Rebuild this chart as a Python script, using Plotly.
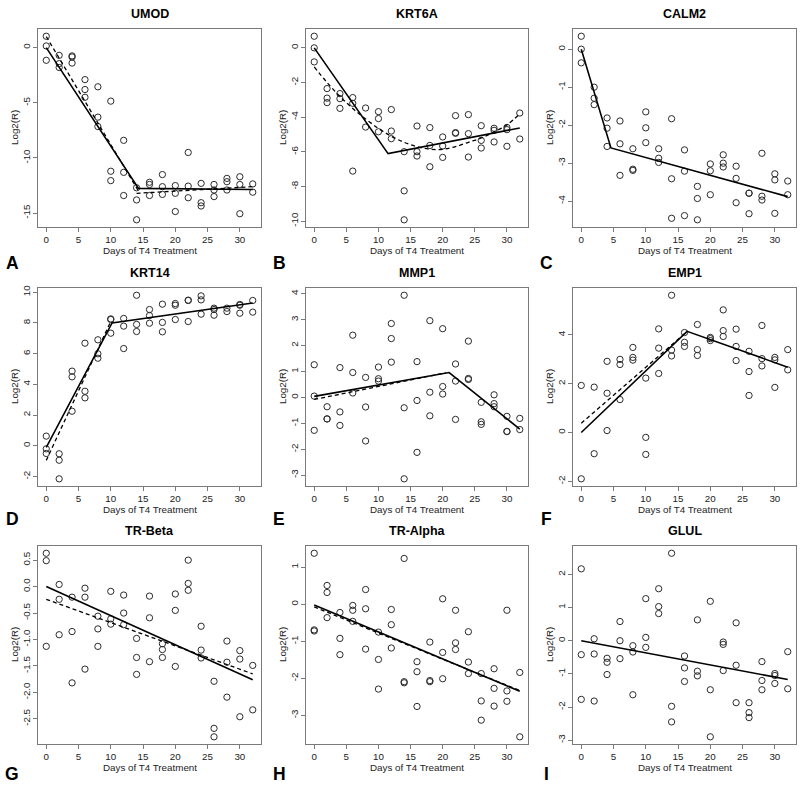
import plotly.graph_objects as go

# ---------------- data ----------------
DAYS = [0, 2, 4, 6, 8, 10, 12, 14, 16, 18, 20, 22, 24, 26, 28, 30, 32]
X_TICKS = [0, 5, 10, 15, 20, 25, 30]

umod_vals = [[1.03, 0.15, -1.15], [-0.7, -1.45, -1.8], [-0.75, -0.85, -1.4], [-2.9, -3.8, -4.5],
             [-3.55, -6.3, -7.15], [-4.85, -11.2, -12.05], [-8.4, -11.3, -13.4], [-12.7, -13.8, -15.6],
             [-12.2, -12.4, -13.4], [-11.5, -12.6, -13.3], [-12.5, -13.2, -14.85], [-9.5, -12.55, -13.6],
             [-12.3, -14.05, -14.35], [-12.4, -12.9, -13.5], [-11.85, -12.15, -12.9], [-11.7, -12.4, -15.05],
             [-12.35, -13.1]]
umod_solid_x = [0, 14.3, 32]
umod_solid_y = [0, -12.75, -12.85]
umod_dash_x = [0, 14.2, None, 14, 32]
umod_dash_y = [1.0, -12.9, None, -13.2, -12.6]

krt6a_vals = [[0.67, 0.0, -0.81], [-2.35, -2.9, -3.16], [-2.64, -2.93, -3.49], [-2.87, -3.2, -7.11],
              [-3.47, -4.57], [-3.68, -4.08, -4.84], [-3.56, -4.8, -5.24], [-5.99, -8.25, -9.92],
              [-4.51, -5.99, -6.24], [-4.6, -5.63, -6.86], [-5.14, -5.66, -6.32], [-3.91, -4.89, -4.93],
              [-3.85, -4.95, -6.3], [-4.49, -5.34, -5.78], [-4.64, -4.76, -5.43], [-4.59, -4.72, -5.68],
              [-3.76, -5.26]]
krt6a_solid_x = [0, 11.5, 32]
krt6a_solid_y = [0, -6.1, -4.62]
krt6a_dash_x = [0, 2, 4, 6, 8, 10, 12, 14, 16, 18, 20, 22, 24, 26, 28, 30, 32]
krt6a_dash_y = [-1.1, -2.0, -2.8, -3.5, -4.1, -4.65, -5.1, -5.45, -5.7, -5.85, -5.85, -5.7,
                -5.45, -5.2, -4.85, -4.45, -3.8]

calm2_vals = [[0.34, 0.0, -0.36], [-1.0, -1.29, -1.46], [-1.81, -2.08, -2.56], [-1.89, -2.49, -3.32],
              [-2.62, -3.16, -3.19], [-1.65, -2.07, -2.46], [-2.62, -2.87, -2.98], [-1.83, -3.41, -4.45],
              [-2.65, -3.21, -4.38], [-3.61, -3.93, -4.49], [-3.02, -3.2, -3.83], [-2.78, -3.0, -3.1],
              [-3.08, -3.4, -4.04], [-3.79, -3.79, -4.33], [-2.74, -3.87, -3.97], [-3.28, -3.44, -4.32],
              [-3.47, -3.83]]
calm2_solid_x = [0, 4.6, 32]
calm2_solid_y = [0, -2.6, -3.88]

krt14_vals = [[0.63, -0.2, -0.5], [-0.52, -0.94, -2.15], [4.86, 4.49, 2.25], [6.68, 3.55, 3.12],
              [6.9, 5.99, 5.7], [8.26, 8.22, 7.33], [8.29, 7.79, 6.33], [9.8, 7.9, 7.44],
              [8.87, 8.48, 7.98], [9.22, 8.03, 7.42], [9.26, 9.15, 8.22], [9.48, 9.46, 8.09],
              [9.76, 9.5, 8.57], [8.96, 8.87, 8.5], [8.96, 8.74], [9.2, 9.15, 8.63], [9.46, 8.7]]
krt14_solid_x = [0, 10.2, 32]
krt14_solid_y = [-0.1, 8.0, 9.3]
krt14_dash_x = [0, 10]
krt14_dash_y = [-0.95, 8.1]

mmp1_vals = [[1.26, 0.05, -1.27], [-0.36, -0.83, -0.83], [1.15, -0.56, -1.08], [2.4, 0.96, 0.17],
             [0.77, -0.37, -1.68], [1.17, 0.72, 0.63], [2.85, 2.27, 1.36], [3.94, -0.4, -3.14],
             [1.38, -0.12, -2.12], [2.96, 0.2, -0.71], [2.65, 0.42, 0.13], [1.29, 0.63, -0.85],
             [2.17, 0.73, 0.69], [-0.19, -0.94, -1.04], [0.1, -0.24, -0.36], [-0.73, -1.31, -1.32],
             [-0.81, -1.24]]
mmp1_solid_x = [0, 21, 32]
mmp1_solid_y = [0.04, 0.96, -1.22]
mmp1_dash_x = [0, 20.5]
mmp1_dash_y = [-0.08, 0.95]

emp1_vals = [[1.93, -1.9], [1.86, -0.87], [2.92, 1.61, 0.08], [3.0, 2.79, 1.35],
             [3.49, 3.08, 2.97], [2.23, -0.2, -0.9], [4.25, 3.46, 2.42], [5.63, 3.38, 3.14],
             [4.1, 3.7, 3.53], [4.43, 3.4, 3.16], [3.9, 3.85, 3.77], [5.03, 4.18, 3.94],
             [4.24, 3.53, 2.95], [3.33, 2.5, 1.52], [4.39, 3.03, 2.73], [3.08, 2.98, 1.85],
             [3.4, 2.57]]
emp1_solid_x = [0, 16.4, 32]
emp1_solid_y = [0, 4.15, 2.68]
emp1_dash_x = [0, 16]
emp1_dash_y = [0.38, 4.05]

trb_vals = [[0.63, 0.49, -1.13], [0.04, -0.24, -0.91], [-0.2, -0.85, -1.82], [-0.03, -0.2, -1.56],
            [-0.56, -0.8, -1.13], [-0.09, -0.61, -0.71], [-0.16, -0.5, -0.72], [-0.98, -1.34, -1.66],
            [-0.18, -0.59, -1.42], [-1.08, -1.19, -1.34], [-0.14, -0.45, -1.51], [0.5, 0.06, -0.07],
            [-0.75, -1.2, -1.35], [-1.79, -2.68, -2.84], [-1.03, -1.43, -2.09], [-1.21, -1.37, -2.46],
            [-1.49, -2.33]]
trb_solid_x = [0, 32]
trb_solid_y = [0, -1.76]
trb_dash_x = [0, 32]
trb_dash_y = [-0.24, -1.65]

tra_vals = [[1.38, -0.69, -0.72], [0.51, 0.32, -0.36], [-0.22, -0.92, -1.36], [-0.03, -0.16, -0.46],
            [0.4, -0.12, -1.21], [-0.75, -1.49, -2.29], [-0.14, -0.55, -1.18], [1.24, -2.09, -2.12],
            [-1.55, -1.82, -2.76], [-1.02, -2.06, -2.09], [0.15, -1.3, -2.01], [-0.16, -1.04, -1.22],
            [-0.74, -1.56, -1.87], [-1.87, -2.61, -3.13], [-1.74, -2.27, -2.75], [-0.16, -2.34, -2.62],
            [-1.84, -3.58]]
tra_solid_x = [0, 32]
tra_solid_y = [-0.02, -2.35]
tra_dash_x = [0, 32]
tra_dash_y = [-0.07, -2.33]

glul_vals = [[2.17, -0.42, -1.77], [0.06, -0.4, -1.82], [-0.53, -0.65, -1.02], [0.58, 0.0, -0.54],
             [-0.15, -0.34, -1.63], [1.27, 0.1, -0.2], [1.57, 1.03, 0.82], [2.64, -1.98, -2.45],
             [-0.46, -0.82, -1.23], [0.63, -0.92, -1.06], [1.19, -1.48, -2.9], [-0.04, -0.11, -0.9],
             [0.54, -0.74, -1.87], [-1.87, -2.17, -2.32], [-0.63, -1.2, -1.48], [-0.99, -1.05, -1.29],
             [-0.33, -1.45]]
glul_solid_x = [0, 32]
glul_solid_y = [0, -1.17]

umod_yticks = [-15, -10, -5, 0]
krt6a_yticks = [-10, -8, -6, -4, -2, 0]
calm2_yticks = [-4, -3, -2, -1, 0]
krt14_yticks = [-2, 0, 2, 4, 6, 8, 10]
mmp1_yticks = [-3, -2, -1, 0, 1, 2, 3, 4]
emp1_yticks = [-2, 0, 2, 4]
trb_yticks = [-2.5, -2.0, -1.5, -1.0, -0.5, 0.0, 0.5]
tra_yticks = [-3, -2, -1, 0, 1]
glul_yticks = [-3, -2, -1, 0, 1, 2]

panels = [
    ("UMOD", "A", umod_vals, umod_yticks, "{:g}", umod_solid_x, umod_solid_y, umod_dash_x, umod_dash_y, "linear"),
    ("KRT6A", "B", krt6a_vals, krt6a_yticks, "{:g}", krt6a_solid_x, krt6a_solid_y, krt6a_dash_x, krt6a_dash_y, "spline"),
    ("CALM2", "C", calm2_vals, calm2_yticks, "{:g}", calm2_solid_x, calm2_solid_y, None, None, "linear"),
    ("KRT14", "D", krt14_vals, krt14_yticks, "{:g}", krt14_solid_x, krt14_solid_y, krt14_dash_x, krt14_dash_y, "linear"),
    ("MMP1", "E", mmp1_vals, mmp1_yticks, "{:g}", mmp1_solid_x, mmp1_solid_y, mmp1_dash_x, mmp1_dash_y, "linear"),
    ("EMP1", "F", emp1_vals, emp1_yticks, "{:g}", emp1_solid_x, emp1_solid_y, emp1_dash_x, emp1_dash_y, "linear"),
    ("TR-Beta", "G", trb_vals, trb_yticks, "{:.1f}", trb_solid_x, trb_solid_y, trb_dash_x, trb_dash_y, "linear"),
    ("TR-Alpha", "H", tra_vals, tra_yticks, "{:g}", tra_solid_x, tra_solid_y, tra_dash_x, tra_dash_y, "linear"),
    ("GLUL", "I", glul_vals, glul_yticks, "{:g}", glul_solid_x, glul_solid_y, None, None, "linear"),
]

# ---------------- layout geometry (pixels) ----------------
W, H = 800, 787
COL_L = [38, 306, 573]
COL_R = [261, 528, 796]
ROW_T = [26, 286, 545]
ROW_B = [225, 485, 744]
LETTER_Y = [261, 518, 774]
LETTER_X = [12, 279, 546]
FONT = "Liberation Sans, Arial, Helvetica, sans-serif"
FRAME = "#7a7a7a"
INK = "#2b2b2b"
LAB = 9.8

fig = go.Figure()
layout = dict(width=W, height=H, margin=dict(l=0, r=0, t=0, b=0),
              paper_bgcolor="white", plot_bgcolor="white", showlegend=False,
              font=dict(family=FONT, size=LAB, color="#222"))
annotations = []

for i, (title, letter, vals, yticks, fmt, sx, sy, dx, dy, dshape) in enumerate(panels):
    r, c = divmod(i, 3)
    n = i + 1
    xa = "x" if n == 1 else f"x{n}"
    ya = "y" if n == 1 else f"y{n}"
    xs, ys = [], []
    for d, vlist in zip(DAYS, vals):
        for v in vlist:
            xs.append(d)
            ys.append(v)
    fig.add_trace(go.Scatter(x=xs, y=ys, mode="markers", xaxis=xa, yaxis=ya,
                             marker=dict(symbol="circle-open", size=6.3, color=INK,
                                         line=dict(width=1, color=INK))))
    fig.add_trace(go.Scatter(x=sx, y=sy, mode="lines", xaxis=xa, yaxis=ya,
                             line=dict(color="black", width=1.6)))
    if dx is not None:
        fig.add_trace(go.Scatter(x=dx, y=dy, mode="lines", xaxis=xa, yaxis=ya, connectgaps=False,
                                 line=dict(color="black", width=1.3, dash="4px,3px", shape=dshape)))

    ymin, ymax = min(ys), max(ys)
    span = ymax - ymin
    yr = [ymin - 0.04 * span, ymax + 0.04 * span]
    xr = [0 - 0.04 * 32, 32 + 0.04 * 32]

    axcommon = dict(showgrid=False, zeroline=False, showline=True, linecolor=FRAME, linewidth=1,
                    mirror=True, ticks="outside", ticklen=4, tickcolor=FRAME, tickwidth=1,
                    tickfont=dict(family=FONT, size=LAB, color="#222"), fixedrange=True)
    layout["xaxis" if n == 1 else f"xaxis{n}"] = dict(
        axcommon, domain=[COL_L[c] / W, COL_R[c] / W], range=xr, anchor=ya,
        tickvals=X_TICKS, ticktext=[str(t) for t in X_TICKS], ticklabelstandoff=-1)
    layout["yaxis" if n == 1 else f"yaxis{n}"] = dict(
        axcommon, domain=[1 - ROW_B[r] / H, 1 - ROW_T[r] / H], range=yr, anchor=xa,
        tickvals=yticks, ticktext=[fmt.format(t) for t in yticks], tickangle=-90,
        ticklabelstandoff=-1)

    cx = (COL_L[c] + COL_R[c]) / 2
    cy = (ROW_T[r] + ROW_B[r]) / 2
    annotations.append(dict(text=f"<b>{title}</b>", x=cx / W, y=1 - (ROW_T[r] - 15) / H,
                            xref="paper", yref="paper", showarrow=False, xanchor="center",
                            yanchor="middle", font=dict(family=FONT, size=12.5, color="black")))
    annotations.append(dict(text="Days of T4 Treatment", x=cx / W, y=1 - (ROW_B[r] + 23.5) / H,
                            xref="paper", yref="paper", showarrow=False, xanchor="center",
                            yanchor="middle", font=dict(family=FONT, size=LAB, color="#222")))
    annotations.append(dict(text="Log2(R)", x=(COL_L[c] - 24) / W, y=1 - cy / H, textangle=-90,
                            xref="paper", yref="paper", showarrow=False, xanchor="center",
                            yanchor="middle", font=dict(family=FONT, size=LAB, color="#222")))
    annotations.append(dict(text=f"<b>{letter}</b>", x=LETTER_X[c] / W, y=1 - LETTER_Y[r] / H,
                            xref="paper", yref="paper", showarrow=False, xanchor="center",
                            yanchor="middle", font=dict(family=FONT, size=17.5, color="black")))

layout["annotations"] = annotations
fig.update_layout(**layout)
fig.write_html("out.html", config={"displayModeBar": False},
               post_script="document.body.style.margin='0';document.body.style.overflow='hidden';")
